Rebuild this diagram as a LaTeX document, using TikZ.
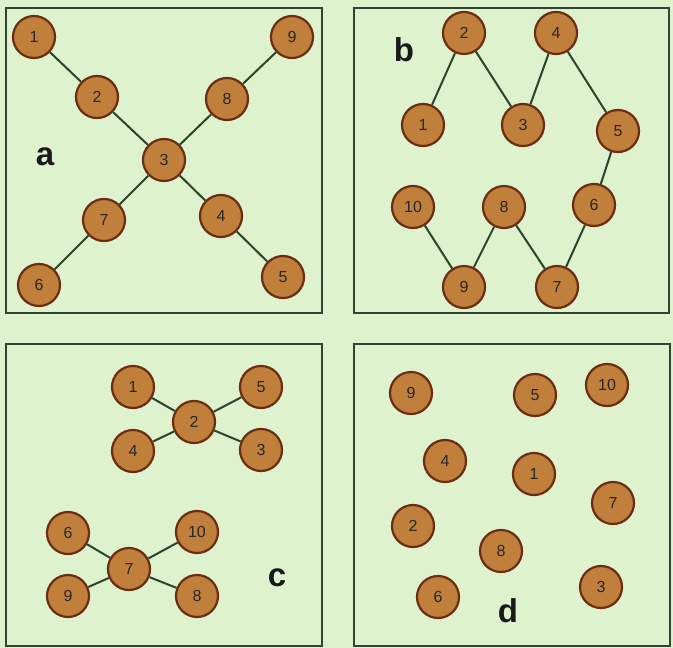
\documentclass[tikz,border=0pt]{standalone}
\usepackage{fontspec}
\setmainfont{Liberation Sans}
\definecolor{bg}{HTML}{DDF2CD}
\definecolor{nodefill}{HTML}{C0803B}
\definecolor{nodeline}{HTML}{6A2C12}
\definecolor{edgecol}{HTML}{2A452C}
\definecolor{boxcol}{HTML}{2E4534}
\tikzset{
  vtx/.style={circle, fill=nodefill, draw=nodeline, line width=2.2pt, minimum size=42pt, inner sep=0pt, font=\fontsize{16}{16}\selectfont, text=black!85},
  edge/.style={draw=edgecol, line width=2pt},
  panel/.style={draw=boxcol, line width=2.5pt},
  plabel/.style={font=\fontsize{33}{33}\selectfont\bfseries, text=black!90}
}
\begin{document}
\begin{tikzpicture}[x=1pt,y=-1pt]
\useasboundingbox (0,0) rectangle (673,648);
\fill[bg] (0,0) rectangle (673,648);
% panels
\draw[panel] (6,8) rectangle (322,313);
\draw[panel] (354,8) rectangle (669,313);
\draw[panel] (6,344) rectangle (322,646);
\draw[panel] (354,344) rectangle (670,646);
% panel a
\node[vtx] (a1) at (34,37) {1};
\node[vtx] (a2) at (97,97) {2};
\node[vtx] (a3) at (164,160) {3};
\node[vtx] (a4) at (221,216) {4};
\node[vtx] (a5) at (283,277) {5};
\node[vtx] (a6) at (39,285) {6};
\node[vtx] (a7) at (104,220) {7};
\node[vtx] (a8) at (227,99) {8};
\node[vtx] (a9) at (292,37) {9};
\node[plabel] (la) at (45,157) {a};
\draw[edge] (a1) -- (a2) (a2) -- (a3) (a3) -- (a4) (a4) -- (a5)
  (a9) -- (a8) (a8) -- (a3) (a3) -- (a7) (a7) -- (a6);
% panel b
\node[vtx] (b1) at (423,125) {1};
\node[vtx] (b2) at (464,33) {2};
\node[vtx] (b3) at (523,125) {3};
\node[vtx] (b4) at (556,33) {4};
\node[vtx] (b5) at (618,131) {5};
\node[vtx] (b6) at (594,205) {6};
\node[vtx] (b7) at (557,287) {7};
\node[vtx] (b8) at (504,207) {8};
\node[vtx] (b9) at (464,287) {9};
\node[vtx] (b10) at (413,207) {10};
\node[plabel] (lb) at (404,50) {b};
\draw[edge] (b1) -- (b2) (b2) -- (b3) (b3) -- (b4) (b4) -- (b5) (b5) -- (b6)
  (b6) -- (b7) (b7) -- (b8) (b8) -- (b9) (b9) -- (b10);
% panel c
\node[vtx] (c1) at (133,387) {1};
\node[vtx] (c2) at (194,422) {2};
\node[vtx] (c3) at (261,450) {3};
\node[vtx] (c4) at (133,451) {4};
\node[vtx] (c5) at (261,387) {5};
\node[vtx] (c6) at (68,533) {6};
\node[vtx] (c7) at (129,569) {7};
\node[vtx] (c8) at (197,596) {8};
\node[vtx] (c9) at (68,596) {9};
\node[vtx] (c10) at (197,532) {10};
\node[plabel] (lc) at (277,578) {c};
\draw[edge] (c1) -- (c2) (c2) -- (c5) (c2) -- (c4) (c2) -- (c3)
  (c6) -- (c7) (c7) -- (c10) (c7) -- (c9) (c7) -- (c8);
% panel d
\node[vtx] (d1) at (534,474) {1};
\node[vtx] (d2) at (413,526) {2};
\node[vtx] (d3) at (601,587) {3};
\node[vtx] (d4) at (445,461) {4};
\node[vtx] (d5) at (535,395) {5};
\node[vtx] (d6) at (438,597) {6};
\node[vtx] (d7) at (613,503) {7};
\node[vtx] (d8) at (501,551) {8};
\node[vtx] (d9) at (411,393) {9};
\node[vtx] (d10) at (607,385) {10};
\node[plabel] (ld) at (508,611) {d};
\end{tikzpicture}
\end{document}
